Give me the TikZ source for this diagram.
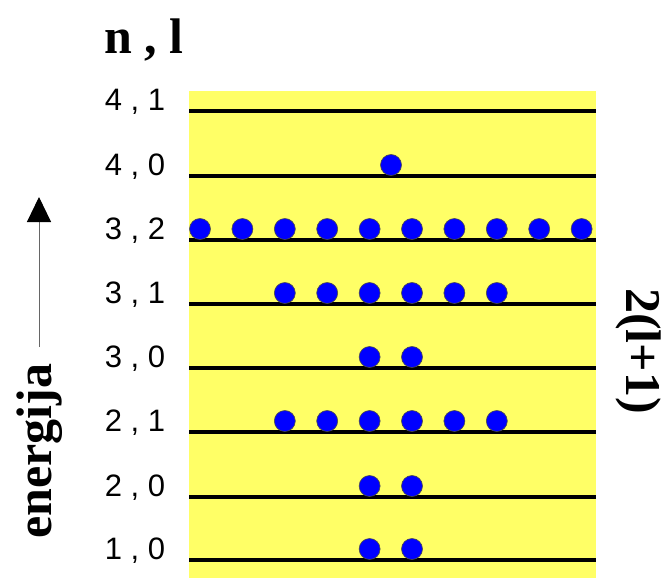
\documentclass[tikz,border=0pt]{standalone}
\usepackage{fontspec}
\setmainfont{Liberation Serif}
\newfontfamily\arialfont{Liberation Sans}
\usepackage{tikz}
\usetikzlibrary{arrows.meta}
\definecolor{lvyellow}{RGB}{255,255,102}
\definecolor{lvblue}{RGB}{0,0,255}

\begin{document}
\begin{tikzpicture}[
  x=1pt,
  y=-1pt,
  level/.style={
    draw=black,
    line width=3.2pt
  },
  electron/.style={
    circle,
    draw=black!70,
    fill=lvblue,
    line width=0.6pt,
    minimum size=21pt,
    inner sep=0pt
  },
  lbl/.style={
    font=\arialfont\fontsize{31}{34}\selectfont,
    inner sep=0pt
  },
  big/.style={
    font=\bfseries\fontsize{50}{56}\selectfont,
    inner sep=0pt
  }
]

\useasboundingbox (0,0) rectangle (665,578);

% yellow band
\fill[lvyellow] (189,91) rectangle (596,578);

% levels with their labels
\foreach \nm/\lab/\yy in {41/{4 , 1}/111, 40/{4 , 0}/176, 32/{3 , 2}/240,
    31/{3 , 1}/304, 30/{3 , 0}/368, 21/{2 , 1}/432, 20/{2 , 0}/497, 10/{1 , 0}/560}
{
  \draw[level] (189,\yy) -- (596,\yy);
  \node[lbl] (lab\nm) at (135,\yy-9) {\lab};
}

% electrons
\node[electron] (e40) at (391,165) {};
\foreach \k in {0,...,9}
  \node[electron] (e32-\k) at (200+42.4*\k,229) {};
\foreach \k in {2,...,7}
{
  \node[electron] (e31-\k) at (200+42.4*\k,293) {};
  \node[electron] (e21-\k) at (200+42.4*\k,421) {};
}
\foreach \k in {4,5}
{
  \node[electron] (e30-\k) at (200+42.4*\k,357) {};
  \node[electron] (e20-\k) at (200+42.4*\k,486) {};
  \node[electron] (e10-\k) at (200+42.4*\k,549) {};
}

% titles
\node[big] (nl) at (144,40) {n , l};
\node[big, rotate=90] (en) at (40,451) {energija};
\node[big, rotate=-90] (deg) at (639,351) {2(l+1)};

% energy arrow
\coordinate (ebot) at (39,347);
\coordinate (etop) at (39,197);
\draw[black!60, line width=1pt,
  -{Triangle[length=25pt,width=24pt,color=black]}] (ebot) -- (etop);

\end{tikzpicture}
\end{document}
